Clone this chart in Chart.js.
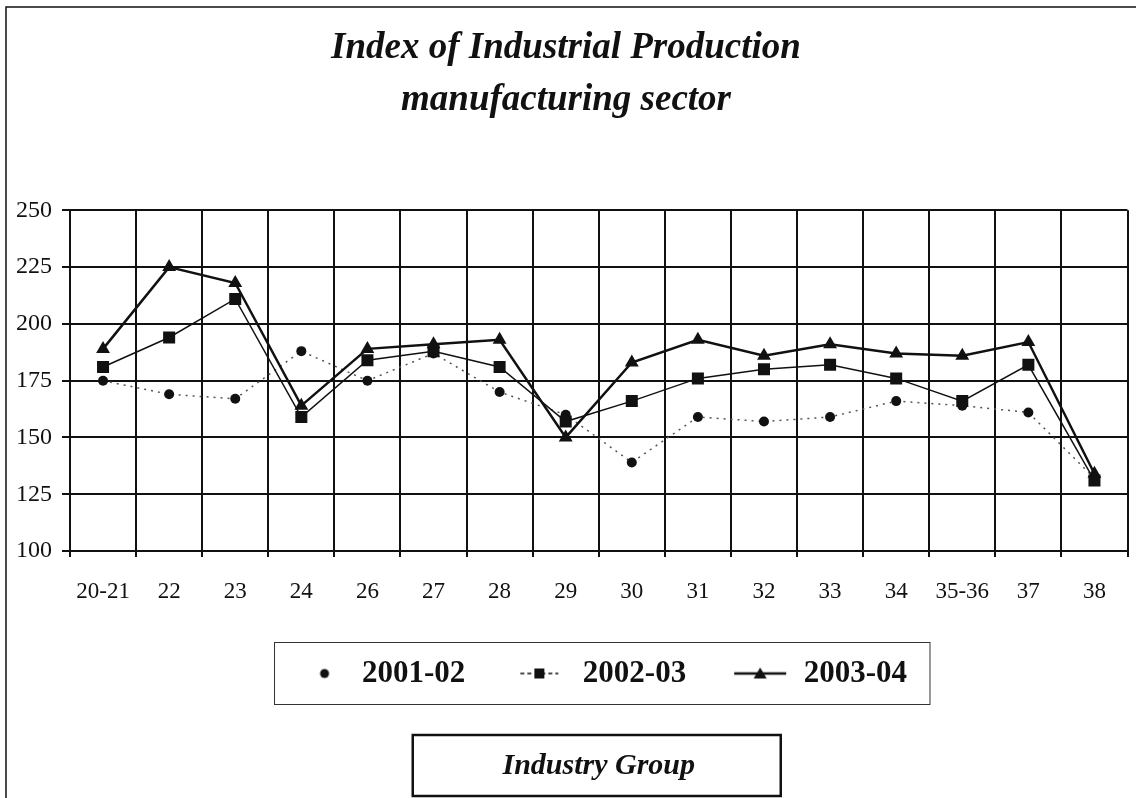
<!DOCTYPE html>
<html>
<head>
<meta charset="utf-8">
<title>Index of Industrial Production</title>
<script src="https://cdn.jsdelivr.net/npm/chart.js@4.4.1/dist/chart.umd.min.js"></script>
<style>
    body { margin: 0; background: #fff; }
    #ipChart { display: block; }
</style>
</head>
<body>
<canvas id="ipChart" width="1136" height="798"></canvas>
<script>
// Industry groups (x axis)
const groups = ['20-21', '22', '23', '24', '26', '27', '28', '29', '30', '31', '32', '33', '34', '35-36', '37', '38'];

// Index values per year
const idx2001 = [175, 169, 167, 188, 175, 187, 170, 160, 139, 159, 157, 159, 166, 164, 161, 132];
const idx2002 = [181, 194, 211, 159, 184, 188, 181, 157, 166, 176, 180, 182, 176, 166, 182, 131];
const idx2003 = [189, 225, 218, 164, 189, 191, 193, 150, 183, 193, 186, 191, 187, 186, 192, 134];

const seriesNames = ['2001-02', '2002-03', '2003-04'];
const axisCaption = 'Industry Group';

// Y axis range
const yMin = 100;
const yMax = 250;
const yStep = 25;

const ink = '#111';
const serif = "'Liberation Serif', 'Times New Roman', serif";

// Legend symbols: small canvases with line + marker
function makeSymbol(kind) {
    const c = document.createElement('canvas');
    c.width = 56;
    c.height = 30;
    const g = c.getContext('2d');
    g.fillStyle = ink;
    g.strokeStyle = ink;
    if (kind === 'circle') {
        g.beginPath();
        g.arc(34, 15, 4.5, 0, Math.PI * 2);
        g.fill();
    } else if (kind === 'rect') {
        g.lineWidth = 1.5;
        g.setLineDash([4, 3]);
        g.beginPath();
        g.moveTo(9, 15);
        g.lineTo(47, 15);
        g.stroke();
        g.fillRect(23, 10, 10, 10);
    } else {
        g.lineWidth = 2.5;
        g.beginPath();
        g.moveTo(2, 15);
        g.lineTo(54, 15);
        g.stroke();
        g.beginPath();
        g.moveTo(28, 9);
        g.lineTo(34.5, 20);
        g.lineTo(21.5, 20);
        g.closePath();
        g.fill();
    }
    return c;
}

const legendSymbols = [makeSymbol('circle'), makeSymbol('rect'), makeSymbol('triangle')];

// Outer frame, legend box and axis-caption box
const framePlugin = {
    id: 'framePlugin',
    afterDraw(chart) {
        const ctx = chart.ctx;
        ctx.save();
        ctx.strokeStyle = ink;
        ctx.lineWidth = 1.5;
        ctx.beginPath();
        ctx.moveTo(1136, 7);
        ctx.lineTo(6, 7);
        ctx.lineTo(6, 798);
        ctx.stroke();

        // box round the legend items
        const boxes = chart.legend.legendHitBoxes;
        if (boxes && boxes.length) {
            const left = Math.min(...boxes.map(b => b.left)) - 16;
            const right = Math.max(...boxes.map(b => b.left + b.width)) + 23;
            const cy = boxes[0].top + boxes[0].height / 2;
            ctx.lineWidth = 1;
            ctx.strokeStyle = '#333';
            ctx.strokeRect(left, cy - 31, right - left, 62);
        }

        // box round the "Industry Group" caption
        const st = chart.boxes.find(b => b.options && b.options.text === axisCaption);
        if (st) {
            const cx = (st.left + st.right) / 2;
            ctx.lineWidth = 2.5;
            ctx.strokeStyle = ink;
            ctx.strokeRect(cx - 186, st.top + 36, 368, 61);
        }
        ctx.restore();
    }
};

const ctx = document.getElementById('ipChart').getContext('2d');

new Chart(ctx, {
    type: 'line',
    data: {
        labels: groups,
        datasets: [
            {
                label: seriesNames[0],
                data: idx2001,
                order: 3,
                borderColor: '#555',
                borderWidth: 1.5,
                borderDash: [2, 5],
                pointStyle: 'circle',
                pointRadius: 5,
                pointBackgroundColor: ink,
                pointBorderColor: ink,
                pointBorderWidth: 0,
                tension: 0
            },
            {
                label: seriesNames[1],
                data: idx2002,
                order: 2,
                borderColor: ink,
                borderWidth: 1.5,
                pointStyle: 'rect',
                pointRadius: 8.5,
                pointBackgroundColor: ink,
                pointBorderColor: ink,
                pointBorderWidth: 0,
                tension: 0
            },
            {
                label: seriesNames[2],
                data: idx2003,
                order: 1,
                borderColor: ink,
                borderWidth: 2.5,
                pointStyle: 'triangle',
                pointRadius: 8,
                pointBackgroundColor: ink,
                pointBorderColor: ink,
                pointBorderWidth: 0,
                tension: 0
            }
        ]
    },
    options: {
        responsive: false,
        animation: false,
        devicePixelRatio: 1,
        layout: { padding: { left: 0, right: 4, top: 0, bottom: 0 } },
        scales: {
            x: {
                offset: true,
                grid: { color: ink, lineWidth: 2, offset: true, tickLength: 6 },
                border: { color: ink, width: 2 },
                ticks: { color: ink, font: { family: serif, size: 23 }, padding: 21, maxRotation: 0 },
                afterFit(scale) { scale.height = 61; }
            },
            y: {
                min: yMin,
                max: yMax,
                grid: { color: ink, lineWidth: 2, tickLength: 8 },
                border: { color: ink, width: 2 },
                ticks: { stepSize: yStep, color: ink, font: { family: serif, size: 24 }, padding: 10 },
                afterFit(scale) { scale.width = 70; }
            }
        },
        plugins: {
            title: {
                display: true,
                text: ['Index of Industrial Production', 'manufacturing sector'],
                color: ink,
                font: { family: serif, size: 37, weight: 'bold', style: 'italic', lineHeight: 1.41 },
                padding: { top: 22, bottom: 84 }
            },
            legend: {
                position: 'bottom',
                fullSize: false,
                labels: {
                    color: ink,
                    font: { family: serif, size: 31, weight: 'bold' },
                    usePointStyle: true,
                    pointStyleWidth: 56,
                    padding: 46,
                    sort: (a, b) => a.datasetIndex - b.datasetIndex,
                    generateLabels(chart) {
                        const items = Chart.defaults.plugins.legend.labels.generateLabels(chart);
                        items.forEach(item => {
                            item.pointStyle = legendSymbols[item.datasetIndex];
                            item.fontColor = ink;
                        });
                        return items;
                    }
                }
            },
            subtitle: {
                display: true,
                position: 'bottom',
                fullSize: false,
                text: axisCaption,
                color: ink,
                font: { family: serif, size: 30, weight: 'bold', style: 'italic', lineHeight: 1.2 },
                padding: { top: 49, bottom: 14 }
            },
            tooltip: { enabled: false }
        }
    },
    plugins: [framePlugin]
});
</script>
</body>
</html>
